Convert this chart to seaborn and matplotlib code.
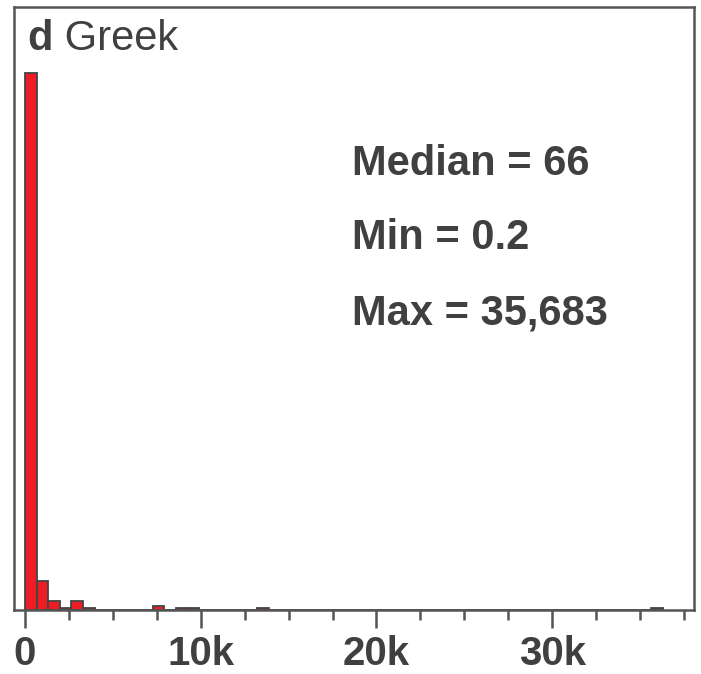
import numpy as np
import pandas as pd
import seaborn as sns
import matplotlib.pyplot as plt
from matplotlib.ticker import MultipleLocator, FuncFormatter

# histogram: bin index (55 bins of 660 from 0) and count
bin_index = [0, 1, 2, 3, 4, 5, 11, 13, 14, 20, 54]
counts = [300, 16, 5, 1, 5, 1, 2, 1, 1, 1, 1]

stat_min = 0.2
stat_max = 35683
stat_median = 66
n_bins = 55
bin_hi = 36300

panel_letter = 'd'
panel_title = 'Greek'

bin_w = bin_hi / n_bins
df = pd.DataFrame({
    'value': [(i + 0.5) * bin_w for i in bin_index],
    'count': counts,
})

sns.set_style('white')
plt.rcParams['font.family'] = ['Liberation Sans', 'DejaVu Sans']
txt_col = '#404040'
spine_col = '#555555'

fig = plt.figure(figsize=(7.01, 6.74), dpi=100)
ax = fig.add_axes([14 / 701, 64 / 674, 680 / 701, 603 / 674])

sns.histplot(data=df, x='value', weights='count', bins=n_bins,
             binrange=(0, bin_hi), color='#ee1c25', alpha=1,
             edgecolor='#444444', linewidth=1.3, ax=ax)

ax.set_xlim(-626, 38070)
ax.set_ylim(0, 337)
ax.set_yticks([])
ax.set_xlabel('')
ax.set_ylabel('')

for s in ax.spines.values():
    s.set_visible(True)
    s.set_color(spine_col)
    s.set_linewidth(1.8)

ax.xaxis.set_major_locator(MultipleLocator(10000))
ax.xaxis.set_minor_locator(MultipleLocator(2500))
ax.xaxis.set_major_formatter(FuncFormatter(lambda v, p: '0' if v == 0 else f'{int(v / 1000)}k'))
ax.tick_params(axis='x', which='major', length=13, width=1.8, color=spine_col,
               labelsize=29, labelcolor=txt_col, pad=5, bottom=True)
ax.tick_params(axis='x', which='minor', length=7, width=1.8, color=spine_col, bottom=True)
for lab in ax.get_xticklabels():
    lab.set_fontweight('bold')

t1 = ax.text(0.02, 0.928, panel_letter, transform=ax.transAxes, fontsize=30,
             fontweight='bold', color=txt_col, va='baseline', ha='left')
ax.annotate(' ' + panel_title, xy=(1, 0), xycoords=t1, fontsize=30,
            color=txt_col, va='bottom', ha='left')

stats_lines = [f'Median = {stat_median}', f'Min = {stat_min}', f'Max = {stat_max:,}']
for k, line in enumerate(stats_lines):
    ax.text(0.497, 0.722 - k * 0.124, line, transform=ax.transAxes, fontsize=30,
            fontweight='bold', color=txt_col, va='baseline', ha='left')

fig.savefig('out.png', dpi=100)
